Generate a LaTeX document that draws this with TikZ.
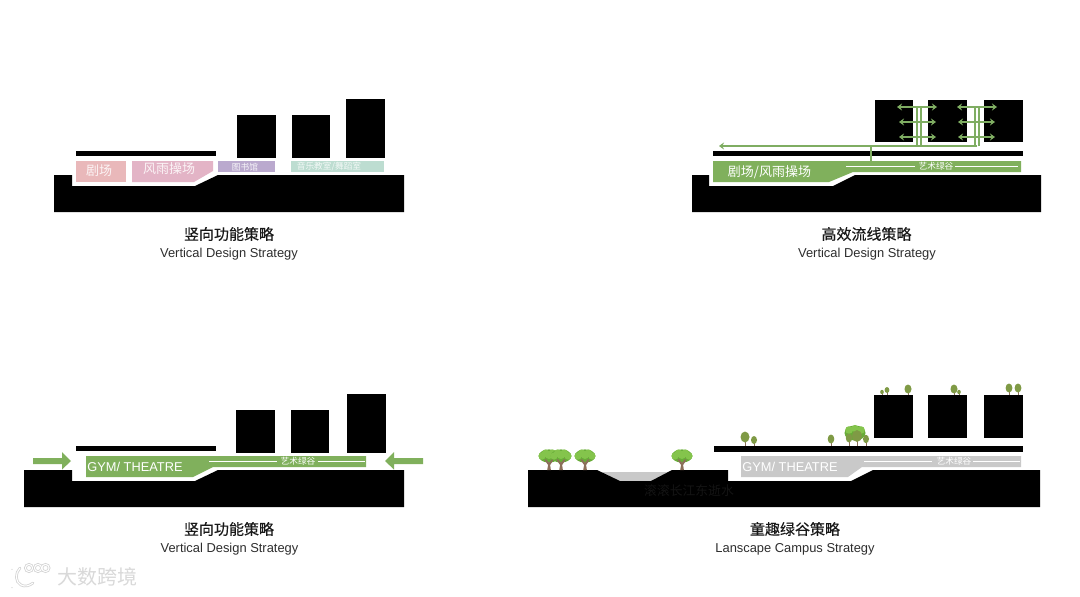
\documentclass[tikz,border=0pt]{standalone}
\usepackage{fontspec}
\setmainfont{Liberation Sans}
\newfontfamily\cjk{Noto Sans CJK SC}
\newfontfamily\cjkm[FakeBold=0.3]{Noto Sans CJK SC}
\usetikzlibrary{arrows.meta}
\definecolor{gbar}{HTML}{80B05C}
\definecolor{gline}{HTML}{7FAD62}
\definecolor{pinka}{HTML}{E9B8BA}
\definecolor{pinkb}{HTML}{E3B4C6}
\definecolor{purp}{HTML}{BAA9CE}
\definecolor{mint}{HTML}{BDDDD1}
\definecolor{greyb}{HTML}{C9C9C9}
\definecolor{leaf}{HTML}{84C44C}
\definecolor{leafd}{HTML}{68AC38}
\definecolor{olive}{HTML}{7F9A45}
\definecolor{bark}{HTML}{8C6F5A}
\tikzset{
  solid block/.style={fill=black,draw=none},
  zh/.style={inner sep=0pt,font=\fontsize{#1}{#1}\selectfont\cjk},
  zh/.default=13,
  title zh/.style={inner sep=0pt,text=black!90,font=\fontsize{15}{15}\selectfont\cjkm},
  title en/.style={inner sep=0pt,text=black!82,font=\fontsize{12.9}{13}\selectfont},
  gym/.style={inner sep=0pt,text=white,font=\fontsize{12.8}{13}\selectfont},
  flow/.style={draw=gline,line width=2pt},
  flowtip/.style={flow,{Stealth[length=5pt,width=7pt]}-{Stealth[length=5pt,width=7pt]}},
  inline/.style={draw=white,line width=.5pt},
  bigarrow/.style={fill=gbar,draw=none},
  wm/.style={draw=black!18,line width=2.6pt,line cap=round},
  wmi/.style={draw=white,line width=1.1pt,line cap=round},
}
% small tree: x, y of crown, rx, ry, y of foot
\newcommand{\smalltree}[5]{%
  \draw[bark,line width=.8pt] (#1,#2) -- (#1,#5);
  \fill[olive] (#1,#2) ellipse [x radius=#3,y radius=#4];
}
% big tree: x of stem, y of foot
\newcommand{\bigtree}[2]{%
  \begin{scope}[shift={(#1,#2)}]
    \fill[leafd] (0,-14) ellipse [x radius=10.3,y radius=6.6];
    \fill[leaf] (-7,-14) circle [radius=3.6] (-3.5,-17) circle [radius=3.6] (3.5,-17) circle [radius=3.6] (7,-14) circle [radius=3.6] (0,-15) circle [radius=4];
    \fill[bark] (-1.8,0) -- (-.9,-5) -- (-4.4,-10) -- (-3.2,-10.8) -- (0,-7.4) -- (3.2,-10.8) -- (4.4,-10) -- (1.1,-5) -- (1.9,0) -- cycle;
  \end{scope}
}
\begin{document}
\begin{tikzpicture}[x=1pt,y=-1pt]
\useasboundingbox[fill=white] (0,0) rectangle (1080,597);

%% ---- panel 1
\fill[solid block] (54,175) -- (72,175) -- (72,186) -- (195,186) -- (218,175) -- (404,175) -- (404,212) -- (54,212) -- cycle;
\fill[solid block] (76,151) rectangle (216,156);
\fill[solid block] (237,115) rectangle (276,158);
\fill[solid block] (292,115) rectangle (330,158);
\fill[solid block] (346,99) rectangle (385,158);
\fill[pinka] (76,161) rectangle (126,182);
\fill[pinkb] (132,161) -- (213,161) -- (213,171) -- (194,182) -- (132,182) -- cycle;
\fill[purp] (218,161) rectangle (275,172);
\fill[mint] (291,161) rectangle (384,172);
\node[zh=13,text=white!85!pinka] (a1) at (99,170.5) {剧场};
\node[zh=13,text=white!85!pinkb] (a2) at (169,169) {风雨操场};
\node[zh=8.7,text=white!88!purp] (a3) at (245,167) {图书馆};
\node[zh=8.7,text=white!80!mint] (a4) at (329,167) {音乐教室/舞蹈室};
\node[title zh] (t1) at (229,234) {竖向功能策略};
\node[title en] (s1) at (229,254) {Vertical Design Strategy};

%% ---- panel 2
\fill[solid block] (692,175) -- (709,175) -- (709,186) -- (833,186) -- (855,175) -- (1041,175) -- (1041,212) -- (692,212) -- cycle;
\fill[solid block] (713,151) rectangle (1023,156);
\fill[solid block] (875,100) rectangle (913,142);
\fill[solid block] (928,100) rectangle (967,142);
\fill[solid block] (984,100) rectangle (1023,142);
\fill[gbar] (713,161) -- (1021,161) -- (1021,172) -- (853,172) -- (829,182) -- (713,182) -- cycle;
\draw[inline] (846,166) -- (915,166) (955,166) -- (1018,166);
\node[zh=13,text=white] (b1) at (769.5,172) {剧场/风雨操场};
\node[zh=8.7,text=white] (b2) at (936,166.5) {艺术绿谷};
\draw[flow,-{Stealth[length=5pt,width=7pt]}] (977,146) -- (719,146);
\draw[flow] (871,146) -- (871,161);
\draw[flow] (917,146) -- (917,108) (920.5,146) -- (920.5,108);
\draw[flow] (975,146) -- (975,108) (978.5,146) -- (978.5,108);
\draw[flowtip] (897,107) -- (937,107);
\draw[flowtip] (899,122) -- (936,122);
\draw[flowtip] (899,137) -- (936,137);
\draw[flowtip] (957,107) -- (997,107);
\draw[flowtip] (958,122) -- (995,122);
\draw[flowtip] (958,137) -- (995,137);
\node[title zh] (t2) at (866.5,234) {高效流线策略};
\node[title en] (s2) at (867,254) {Vertical Design Strategy};

%% ---- panel 3
\fill[solid block] (24,470) -- (72,470) -- (72,481) -- (195,481) -- (218,470) -- (404,470) -- (404,507) -- (24,507) -- cycle;
\fill[solid block] (76,446) rectangle (216,451);
\fill[solid block] (236,410) rectangle (275,453);
\fill[solid block] (291,410) rectangle (329,453);
\fill[solid block] (347,394) rectangle (386,453);
\fill[gbar] (86,456) -- (366,456) -- (366,467) -- (213,467) -- (193,477) -- (86,477) -- cycle;
\draw[inline] (209,461) -- (277,461) (318,461) -- (365,461);
\node[gym] (c1) at (135,467) {GYM/ THEATRE};
\node[zh=8.7,text=white] (c2) at (298,461.5) {艺术绿谷};
\fill[bigarrow] (33,458) -- (62,458) -- (62,452) -- (71,461) -- (62,469.5) -- (62,464) -- (33,464) -- cycle;
\fill[bigarrow] (423,458) -- (394,458) -- (394,452) -- (385,461) -- (394,469.5) -- (394,464) -- (423,464) -- cycle;
\node[title zh] (t3) at (229,529) {竖向功能策略};
\node[title en] (s3) at (229.5,549) {Vertical Design Strategy};

%% ---- panel 4
\fill[greyb] (600,472) -- (668,472) -- (651,482) -- (620,482) -- cycle;
\fill[solid block] (528,470) -- (597,470) -- (620,481) -- (651,481) -- (672,470) -- (728,470) -- (728,481) -- (851,481) -- (873,470) -- (1040,470) -- (1040,507) -- (528,507) -- cycle;
\fill[solid block] (714,446) rectangle (1023,452);
\fill[solid block] (874,395) rectangle (913,438);
\fill[solid block] (928,395) rectangle (967,438);
\fill[solid block] (984,395) rectangle (1023,438);
\fill[greyb] (741,456) -- (1021,456) -- (1021,467) -- (862,467) -- (848,477) -- (741,477) -- cycle;
\draw[inline] (864,461) -- (932,461) (973,461) -- (1020,461);
\node[gym] (d1) at (790,467) {GYM/ THEATRE};
\node[zh=8.7,text=white] (d2) at (954,461.5) {艺术绿谷};
\node[zh=12.8,text=black!92] (d3) at (689,491) {滚滚长江东逝水};
\bigtree{549}{470}
\bigtree{561}{470}
\bigtree{585}{470}
\bigtree{682}{470}
\smalltree{745}{437}{4.5}{5.5}{446}
\smalltree{754}{440}{3}{4}{446}
\smalltree{831}{439}{3.3}{4.5}{446}
\fill[leafd] (855,433) ellipse [x radius=10.5,y radius=7.5];
\fill[leaf] (849,430) circle [radius=3.8] (855,428.5) circle [radius=3.6] (861,430) circle [radius=3.8];
\smalltree{849}{438}{3.2}{4.5}{446}
\smalltree{857}{436}{4.8}{6}{446}
\smalltree{866}{439}{3}{4.2}{446}
\smalltree{882}{392}{1.8}{2.2}{395}
\smalltree{887}{390}{2.4}{3}{395}
\smalltree{908}{389}{3.5}{4.5}{395}
\smalltree{954}{389}{3.5}{4.5}{395}
\smalltree{959}{392}{1.8}{2.2}{395}
\smalltree{1009}{388}{3.4}{4.5}{395}
\smalltree{1018}{388}{3.4}{4.5}{395}
\node[title zh] (t4) at (795,529) {童趣绿谷策略};
\node[title en] (s4) at (795,549) {Lanscape Campus Strategy};

%% ---- watermark
\foreach \st in {wm,wmi}{
  \draw[\st] (12,570) -- (12,587);
  \draw[\st] (20,568) .. controls (15,573) and (15,582) .. (21,585) .. controls (25,587) and (29,586) .. (33,583);
  \draw[\st] (29,568) circle [radius=3.6];
  \draw[\st] (38,568) circle [radius=3.6];
  \draw[\st] (45.5,568) circle [radius=3.6];
}
\node[zh=20,text=black!15] (w) at (97,577) {大数跨境};
\end{tikzpicture}
\end{document}
